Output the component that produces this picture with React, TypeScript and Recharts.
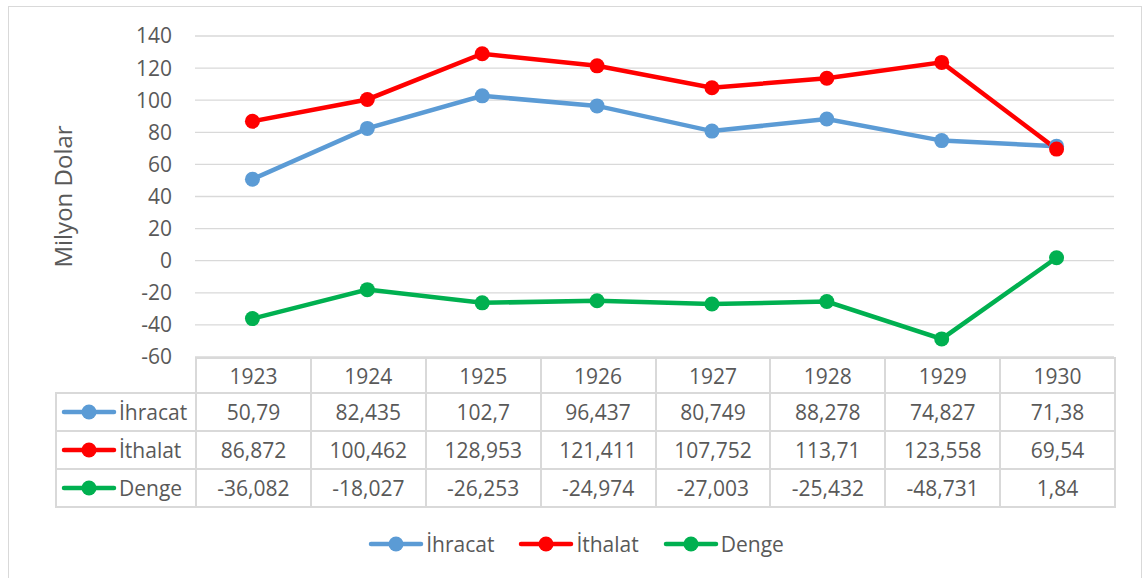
import { LineChart, Line, XAxis, YAxis, CartesianGrid } from 'recharts'

const years = ['1923', '1924', '1925', '1926', '1927', '1928', '1929', '1930']
const ihracat = [50.79, 82.435, 102.7, 96.437, 80.749, 88.278, 74.827, 71.38]
const ithalat = [86.872, 100.462, 128.953, 121.411, 107.752, 113.71, 123.558, 69.54]
const denge = [-36.082, -18.027, -26.253, -24.974, -27.003, -25.432, -48.731, 1.84]
const yTicks = [-60, -40, -20, 0, 20, 40, 60, 80, 100, 120, 140]

const series = [
  { key: 'ihracat', name: 'İhracat', color: '#5B9BD5', values: ihracat },
  { key: 'ithalat', name: 'İthalat', color: '#FF0000', values: ithalat },
  { key: 'denge', name: 'Denge', color: '#00B050', values: denge },
]

const data = years.map((y, i) => ({
  year: y,
  ihracat: ihracat[i],
  ithalat: ithalat[i],
  denge: denge[i],
}))

const FONT = '"Open Sans", sans-serif'
const TXT = '#595959'
const GRID = '#D9D9D9'

// chart box geometry
const W = 1134
const H = 580
const PLOT_L = 186
const PLOT_T = 29
const PLOT_R = 1105
const PLOT_B = 350
const COL_W = (PLOT_R - PLOT_L) / years.length

const fmt = (v: number) => String(v).replace('.', ',')

function Icon({ color }: { color: string }) {
  return (
    <svg width={56} height={18} style={{ display: 'block', flexShrink: 0 }}>
      <line x1={3} y1={9} x2={53} y2={9} stroke={color} strokeWidth={4.5} strokeLinecap="round" />
      <circle cx={28} cy={9} r={7.5} fill={color} />
    </svg>
  )
}

const cell: React.CSSProperties = {
  border: `2px solid ${GRID}`,
  padding: 0,
  textAlign: 'center',
  color: TXT,
  fontSize: 21,
  fontFamily: FONT,
  whiteSpace: 'nowrap',
}

export default function App() {
  return (
    <div
      style={{
        position: 'absolute',
        left: 8,
        top: 6,
        width: W,
        height: H,
        border: `1px solid ${GRID}`,
        background: '#fff',
        boxSizing: 'border-box',
        fontFamily: FONT,
      }}
    >
      <LineChart
        width={W}
        height={H}
        data={data}
        margin={{ top: PLOT_T, right: W - PLOT_R, bottom: H - PLOT_B, left: 26 }}
      >
        <CartesianGrid vertical={false} stroke={GRID} strokeWidth={1.3} />
        <XAxis dataKey="year" type="category" scale="band" hide />
        <YAxis
          width={160}
          domain={[-60, 140]}
          ticks={yTicks}
          interval={0}
          axisLine={false}
          tickLine={false}
          tickSize={0}
          tickMargin={23}
          tick={{ fontSize: 21, fill: TXT, fontFamily: FONT }}
          label={{
            value: 'Milyon Dolar',
            angle: -90,
            position: 'insideLeft',
            offset: 28,
            style: { textAnchor: 'middle', fontSize: 24, fill: TXT, fontFamily: FONT },
          }}
        />
        {series.map(s => (
          <Line
            key={s.key}
            dataKey={s.key}
            name={s.name}
            stroke={s.color}
            strokeWidth={4.5}
            dot={{ r: 7.5, fill: s.color, stroke: s.color, strokeWidth: 0 }}
            activeDot={false}
            isAnimationActive={false}
          />
        ))}
      </LineChart>

      {/* data table under the plot */}
      <table
        style={{
          position: 'absolute',
          left: 46,
          top: PLOT_B,
          width: PLOT_R - 46,
          borderCollapse: 'collapse',
          tableLayout: 'fixed',
        }}
      >
        <colgroup>
          <col style={{ width: PLOT_L - 46 }} />
          {years.map(y => <col key={y} style={{ width: COL_W }} />)}
        </colgroup>
        <tbody>
          <tr style={{ height: 35 }}>
            <td style={{ ...cell, border: 'none' }} />
            {years.map(y => <td key={y} style={cell}>{y}</td>)}
          </tr>
          {series.map(s => (
            <tr key={s.key} style={{ height: 38 }}>
              <td style={{ ...cell, textAlign: 'left' }}>
                <div style={{ display: 'flex', alignItems: 'center', gap: 2, paddingLeft: 4 }}>
                  <Icon color={s.color} />
                  <span>{s.name}</span>
                </div>
              </td>
              {s.values.map((v, i) => <td key={i} style={cell}>{fmt(v)}</td>)}
            </tr>
          ))}
        </tbody>
      </table>

      {/* legend */}
      <div
        style={{
          position: 'absolute',
          left: 0,
          top: 523,
          width: W,
          display: 'flex',
          justifyContent: 'center',
          gap: 24,
          color: TXT,
          fontSize: 21,
        }}
      >
        {series.map(s => (
          <div key={s.key} style={{ display: 'flex', alignItems: 'center', gap: 2 }}>
            <Icon color={s.color} />
            <span>{s.name}</span>
          </div>
        ))}
      </div>
    </div>
  )
}
